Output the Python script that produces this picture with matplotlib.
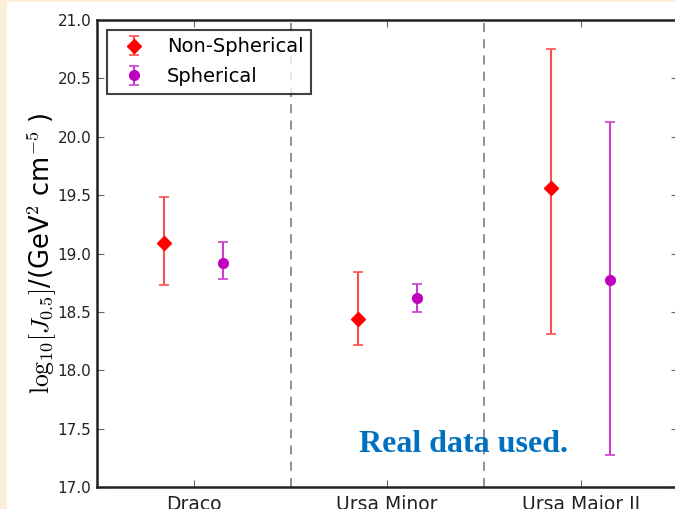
import matplotlib
matplotlib.use("Agg")
import matplotlib.pyplot as plt
from matplotlib.patches import Rectangle

categories = ["Draco", "Ursa Minor", "Ursa Major II"]
nonsph_val = [19.09, 18.44, 19.56]
nonsph_hi = [19.48, 18.84, 20.75]
nonsph_lo = [18.73, 18.22, 18.31]
sph_val = [18.92, 18.62, 18.77]
sph_hi = [19.10, 18.74, 20.13]
sph_lo = [18.78, 18.50, 17.27]
yticks = [17.0, 17.5, 18.0, 18.5, 19.0, 19.5, 20.0, 20.5, 21.0]

plt.rcParams['mathtext.fontset'] = 'cm'
plt.rcParams['font.family'] = 'DejaVu Sans'

fig = plt.figure(figsize=(6.75, 5.09), dpi=100)
fig.patch.set_facecolor('white')
fig.patches.append(Rectangle((0, 0), 7/675, 1, transform=fig.transFigure,
                             facecolor='#FCF0DA', edgecolor='none', zorder=0))
fig.patches.append(Rectangle((0, 1-1.5/509), 1, 1.5/509, transform=fig.transFigure,
                             facecolor='#FCF0DA', edgecolor='none', zorder=0))

ax = fig.add_axes([97/675, 22/509, 580.5/675, 467/509])

xs = list(range(len(categories)))
off = 0.152
x_ns = [x - off for x in xs]
x_s = [x + off for x in xs]
err_ns = [[v - l for v, l in zip(nonsph_val, nonsph_lo)], [h - v for v, h in zip(nonsph_val, nonsph_hi)]]
err_s = [[v - l for v, l in zip(sph_val, sph_lo)], [h - v for v, h in zip(sph_val, sph_hi)]]

ax.errorbar(x_ns, nonsph_val, yerr=err_ns, fmt='D', color='red', ecolor=(1, 0.3, 0.3),
            elinewidth=1.5, capsize=3.5, capthick=1.2, markersize=7, label='Non-Spherical', zorder=3)
ax.errorbar(x_s, sph_val, yerr=err_s, fmt='o', color='#c000c0', ecolor=(0.8, 0.25, 0.8),
            elinewidth=1.5, capsize=3.5, capthick=1.2, markersize=7, label='Spherical', zorder=3)

for xd in [0.5, 1.5]:
    ax.axvline(xd, color='#888888', linestyle=(0, (5, 4)), linewidth=1.3, zorder=1)

ax.set_xlim(-0.5, 2.5)
ax.set_ylim(17.0, 21.0)
ax.set_yticks(yticks)
ax.set_yticklabels([f"{t:.1f}" for t in yticks], fontsize=11, color='#222222')
ax.set_xticks(xs)
ax.set_xticklabels(categories, fontsize=13.5, color='#222222')
ax.tick_params(direction='in', top=True, right=True, length=5, width=0.8, colors='#666666',
               labelcolor='#222222')
ax.tick_params(axis='y', pad=4)
ax.tick_params(axis='x', pad=6)
for s in ax.spines.values():
    s.set_linewidth(1.8)
    s.set_color('#222222')

ax.set_ylabel(r"$\mathrm{log}_{10}[J_{0.5}]$/(GeV$^2$ cm$^{-5}$ )", fontsize=18.5, labelpad=-1)

leg = ax.legend(loc='upper left', numpoints=1, fontsize=14, frameon=True, fancybox=False,
                borderpad=0.4, handletextpad=0.7, labelspacing=0.55, borderaxespad=0.5,
                handlelength=2.0)
leg.get_frame().set_edgecolor('#111111')
leg.get_frame().set_linewidth(1.5)

fig.text(464/675, 1 - 445/509, "Real data used.", fontsize=23, fontweight='bold',
         family='Liberation Serif', color='#0070C0', ha='center', va='center')

fig.savefig("out.png", dpi=100)
